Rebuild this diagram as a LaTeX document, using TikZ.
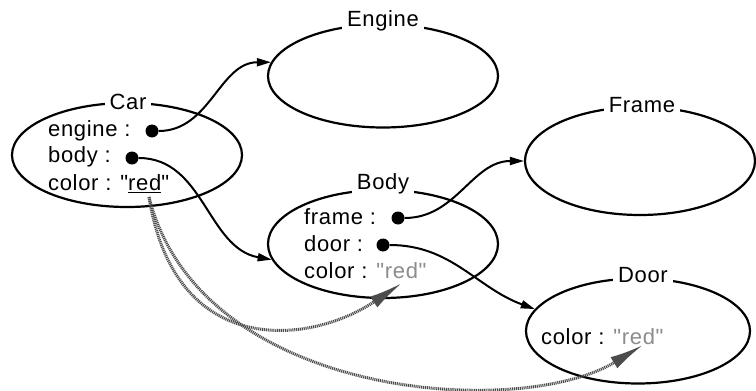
\documentclass[tikz,border=0pt]{standalone}
\usepackage{fontspec}
\setmainfont{Liberation Sans}[LetterSpace=3, Ligatures=TeXOff]
\usetikzlibrary{shapes.geometric,arrows.meta}
\newcommand{\dq}{\symbol{34}}
\tikzset{
  obj/.style={ellipse, draw, line width=2.2pt, inner sep=0pt},
  lbl/.style={fill=white, inner xsep=5pt, inner ysep=1pt},
  txt/.style={anchor=west, inner sep=0pt},
  ptr/.style={circle, fill=black, inner sep=0pt, minimum size=13pt},
  link/.style={line width=2pt, -{Triangle[length=14pt,width=8pt]}},
  share/.style={line width=3pt, draw=black!70, dash pattern=on 1.1pt off 0.8pt,
    -{Latex[length=34pt,width=13pt,fill=black!70]}}
}
\begin{document}
\begin{tikzpicture}[x=1pt,y=-1pt,font=\fontsize{22}{26}\selectfont]
\useasboundingbox (0,0) rectangle (756,391);
\fill[white] (0,0) rectangle (756,391);
% objects
\node[obj, minimum width=230pt, minimum height=104pt] (car) at (127,155) {};
\node[obj, minimum width=230pt, minimum height=103pt] (engine) at (383,76) {};
\node[obj, minimum width=230pt, minimum height=108pt] (frame) at (640,161) {};
\node[obj, minimum width=230pt, minimum height=108pt] (body) at (383,244) {};
\node[obj, minimum width=224pt, minimum height=105pt] (door) at (638,331) {};
% titles
\node[lbl] (tcar) at (128,102) {Car};
\node[lbl] (tengine) at (383,21) {Engine};
\node[lbl] (tframe) at (642,105) {Frame};
\node[lbl] (tbody) at (383,184) {Body};
\node[lbl] (tdoor) at (643,275) {Door};
% slots
\node[txt] (cengine) at (48,131) {engine :};
\node[txt] (cbody) at (48,157) {body :};
\node[txt] (ccolor) at (48,184) {color : \dq\underline{red}\dq};
\node[txt] (bframe) at (304,217) {frame :};
\node[txt] (bdoor) at (304,244) {door :};
\node[txt] (bcolor) at (304,271) {color : \textcolor{black!45}{\dq red\dq}};
\node[txt] (dcolor) at (541,337) {color : \textcolor{black!45}{\dq red\dq}};
% pointer dots
\node[ptr] (pe) at (152,131) {};
\node[ptr] (pb) at (132,158) {};
\node[ptr] (pf) at (398,218) {};
\node[ptr] (pd) at (383,245) {};
\coordinate (cred) at (149,197);
\coordinate (bred) at (402,283);
\coordinate (dred) at (643,345);
% links
\draw[link] (pe) to[out=0, in=180] (engine.173);
\draw[link] (pb) to[out=0, in=170] (body.188);
\draw[link] (pf) to[out=0, in=180] (frame.west);
\draw[link] (pd) to[out=0, in=160] (door.168);
% shared values
\draw[share] (cred) .. controls (175,360) and (310,345) .. (bred);
\draw[share] (cred) .. controls (200,400) and (520,420) .. (dred);
\end{tikzpicture}
\end{document}
